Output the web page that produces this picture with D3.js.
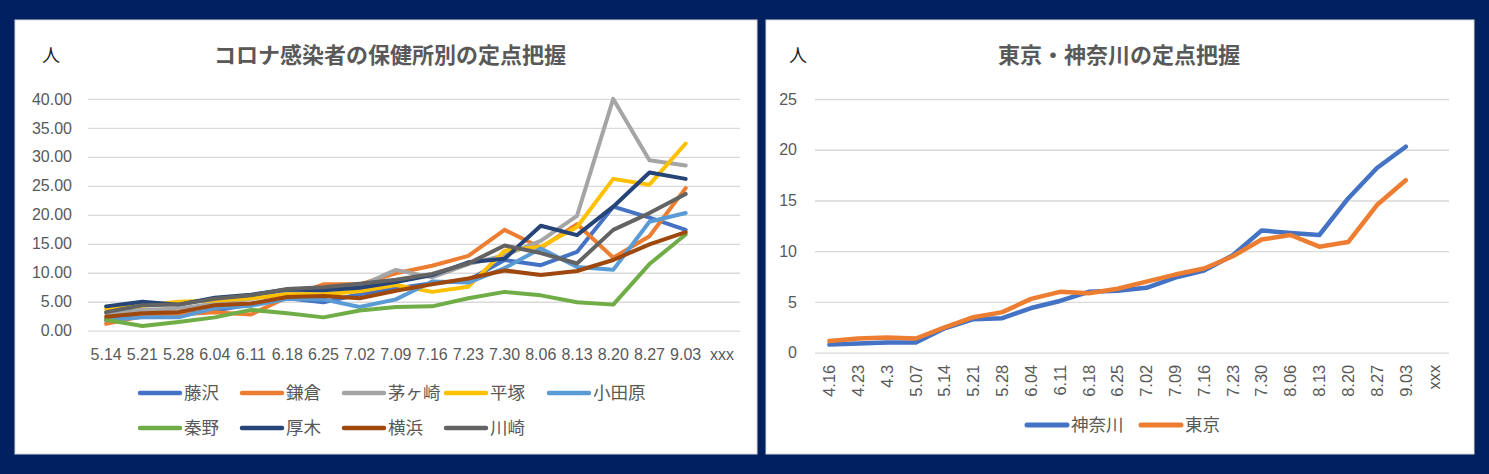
<!DOCTYPE html>
<html><head><meta charset="utf-8">
<script src="https://cdn.jsdelivr.net/npm/d3@7"></script>
<style>
html,body{margin:0;padding:0;background:#002060;}
svg{display:block;}
</style></head>
<body>
<svg id="c" width="1489" height="474"></svg>
<script>
// ---- Left chart data ----
const leftTitle = "コロナ感染者の保健所別の定点把握";
const leftCategories = ["5.14","5.21","5.28","6.04","6.11","6.18","6.25","7.02","7.09","7.16","7.23","7.30","8.06","8.13","8.20","8.27","9.03","xxx"];
const leftTicks = [0,5,10,15,20,25,30,35,40];
const seriesNames = ["藤沢","鎌倉","茅ヶ崎","平塚","小田原","秦野","厚木","横浜","川崎"];
const seriesColors = ["#4472C4","#ED7D31","#A5A5A5","#FFC000","#5B9BD5","#70AD47","#264478","#9E480E","#636363"];
const fujisawa  = [1.9,2.5,2.7,3.5,4.5,5.6,4.9,6.3,7.3,8.2,8.7,12.2,11.3,13.6,21.4,19.5,17.4,null];
const kamakura  = [1.2,2.5,2.8,3.2,2.8,5.8,8.0,8.0,9.9,11.2,12.9,17.4,14.3,18.4,12.6,16.3,24.6,null];
const chigasaki = [3.0,3.6,3.8,4.7,5.5,6.5,7.0,7.7,10.5,9.2,11.5,13.0,15.5,19.8,40.0,29.4,28.5,null];
const hiratsuka = [3.8,4.3,5.0,5.2,5.6,6.3,6.3,6.8,7.9,6.7,7.6,13.8,14.5,17.9,26.2,25.2,32.3,null];
const odawara   = [1.8,2.3,2.3,3.9,4.3,5.5,5.4,4.1,5.4,8.5,8.3,10.8,14.2,11.0,10.5,18.8,20.3,null];
const hadano    = [1.9,0.8,1.5,2.3,3.6,3.0,2.3,3.5,4.1,4.2,5.6,6.7,6.1,4.9,4.5,11.5,16.6,null];
const atsugi    = [4.2,5.0,4.5,5.7,6.2,7.1,7.0,7.4,8.4,9.6,11.8,12.4,18.1,16.5,21.4,27.3,26.2,null];
const yokohama  = [2.4,3.0,3.2,4.4,4.7,5.8,6.0,5.6,6.9,8.0,9.0,10.4,9.6,10.3,12.2,14.9,17.0,null];
const kawasaki  = [3.2,4.4,4.5,5.5,6.1,7.2,7.5,8.1,8.8,9.8,11.6,14.7,13.4,11.6,17.4,20.3,23.6,null];
const leftSeries = [fujisawa,kamakura,chigasaki,hiratsuka,odawara,hadano,atsugi,yokohama,kawasaki];

// ---- Right chart data ----
const rightTitle = "東京・神奈川の定点把握";
const rightCategories = ["4.16","4.23","4.3","5.07","5.14","5.21","5.28","6.04","6.11","6.18","6.25","7.02","7.09","7.16","7.23","7.30","8.06","8.13","8.20","8.27","9.03","xxx"];
const rightTicks = [0,5,10,15,20,25];
const rightNames = ["神奈川","東京"];
const rightColors = ["#4472C4","#ED7D31"];
const kanagawa = [0.8,0.9,1.0,1.0,2.4,3.3,3.4,4.4,5.1,6.0,6.1,6.4,7.4,8.1,9.6,12.05,11.8,11.6,15.2,18.2,20.3,null];
const tokyo    = [1.15,1.4,1.5,1.4,2.5,3.5,4.0,5.3,6.0,5.85,6.3,7.0,7.7,8.3,9.5,11.15,11.6,10.45,10.9,14.55,17.0,null];
const rightSeries = [kanagawa,tokyo];

const svg = d3.select("#c");
const numFont = "'Liberation Sans', Arial, sans-serif";
const jpFont = "'Noto Sans CJK JP', 'Noto Sans', sans-serif";
const txt = "#595959";

// panels
svg.append("rect").attr("x",15).attr("y",20).attr("width",742).attr("height",434).attr("fill","#fff").attr("stroke","#D9D9D9");
svg.append("rect").attr("x",766).attr("y",20).attr("width",708).attr("height",434).attr("fill","#fff").attr("stroke","#D9D9D9");

function drawChart(o){
  const g = svg.append("g");
  const x = d3.scaleBand().domain(o.cats).range([o.x0,o.x1]);
  const y = d3.scaleLinear().domain([0,o.ymax]).range([o.y0,o.y1]);
  const yAxis = d3.axisLeft(y).tickValues(o.ticks).tickFormat(o.fmt).tickSize(-(o.x1-o.x0)).tickPadding(o.ypad);
  const ya = g.append("g").attr("transform",`translate(${o.x0},0)`).call(yAxis);
  ya.select(".domain").remove();
  ya.selectAll("line").attr("stroke","#D9D9D9").attr("stroke-width",1.3);
  ya.selectAll("text").attr("fill",txt).style("font-family",numFont).style("font-size","16px");
  const xAxis = d3.axisBottom(x).tickSize(0).tickPadding(o.xpad);
  const xa = g.append("g").attr("transform",`translate(0,${o.y0})`).call(xAxis);
  xa.select(".domain").remove();
  xa.selectAll("text").attr("fill",txt).style("font-family",numFont).style("font-size",o.xfs+"px");
  if(o.rotate){
    xa.selectAll("text").attr("transform","rotate(-90)").attr("text-anchor","end")
      .attr("x",-o.xpad).attr("y",0).attr("dy","0.35em");
  }
  const line = d3.line().defined(d=>d!=null)
    .x((d,i)=>x(o.cats[i])+x.bandwidth()/2).y(d=>y(d)).curve(d3.curveLinear);
  o.series.forEach((s,k)=>{
    g.append("path").datum(s).attr("d",line).attr("fill","none")
     .attr("stroke",o.colors[k]).attr("stroke-width",o.lw)
     .attr("stroke-linejoin","round").attr("stroke-linecap","round");
  });
  // title
  g.append("text").attr("x",o.tx).attr("y",63).attr("text-anchor","middle")
   .attr("fill",txt).style("font-family",jpFont).style("font-weight","bold").style("font-size","22px").text(o.title);
  g.append("text").attr("x",o.ux).attr("y",62).attr("fill","#222")
   .style("font-family",jpFont).style("font-size","18px").text("人");
  // legend
  o.legend.forEach((it)=>{
    const k = it.k;
    g.append("line").attr("x1",it.x).attr("x2",it.x+40).attr("y1",it.y).attr("y2",it.y)
     .attr("stroke",o.colors[k]).attr("stroke-width",o.lw+0.5).attr("stroke-linecap","round");
    g.append("text").attr("x",it.x+44).attr("y",it.y).attr("dy","0.36em").attr("fill",txt)
     .style("font-family",jpFont).style("font-size","17.5px").text(o.names[k]);
  });
}

const leftLegend = seriesNames.map((n,k)=>({k:k, x:[140,242,344,446,549][k%5], y: k<5?393:428}));
drawChart({cats:leftCategories, ymax:40, ticks:leftTicks, fmt:d3.format(".2f"),
  x0:88, x1:740, y0:330.7, y1:98.9, ypad:16, xpad:18, xfs:16, rotate:false,
  series:leftSeries, colors:seriesColors, names:seriesNames, lw:4,
  title:leftTitle, tx:390, ux:42, legend:leftLegend});

const rightLegend = rightNames.map((n,k)=>({k:k, x:[1027,1141][k], y:425}));
drawChart({cats:rightCategories, ymax:25, ticks:rightTicks, fmt:d3.format("d"),
  x0:815, x1:1449, y0:352.7, y1:99, ypad:18, xpad:12, xfs:16.5, rotate:true,
  series:rightSeries, colors:rightColors, names:rightNames, lw:4.5,
  title:rightTitle, tx:1119, ux:789, legend:rightLegend});
</script>
</body></html>
